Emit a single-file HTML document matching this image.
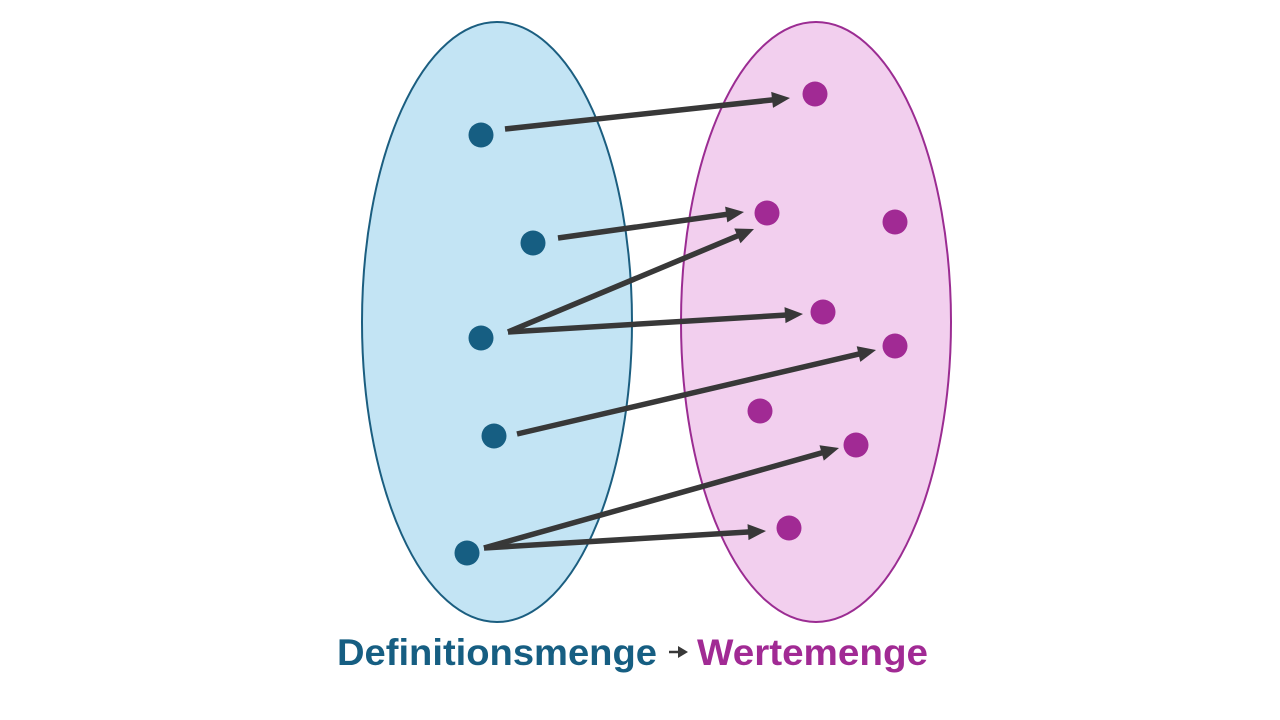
<!DOCTYPE html>
<html><head><meta charset="utf-8"><style>
html,body{margin:0;padding:0;background:#fff;width:1280px;height:720px;overflow:hidden}
svg{display:block}
</style></head><body>
<svg width="1280" height="720" viewBox="0 0 1280 720" xmlns="http://www.w3.org/2000/svg">
<ellipse cx="497" cy="322" rx="135" ry="300" fill="#C3E4F4" stroke="#1B5E80" stroke-width="2"/>
<ellipse cx="816" cy="322" rx="135" ry="300" fill="#F2CFEE" stroke="#9B2C92" stroke-width="2"/>
<g fill="#165E82">
<circle cx="481" cy="135" r="12.5"/>
<circle cx="533" cy="243" r="12.5"/>
<circle cx="481" cy="338" r="12.5"/>
<circle cx="494" cy="436" r="12.5"/>
<circle cx="467" cy="553" r="12.5"/>
</g>
<g fill="#A12A94">
<circle cx="815" cy="94" r="12.5"/>
<circle cx="767" cy="213" r="12.5"/>
<circle cx="895" cy="222" r="12.5"/>
<circle cx="823" cy="312" r="12.5"/>
<circle cx="895" cy="346" r="12.5"/>
<circle cx="760" cy="411" r="12.5"/>
<circle cx="856" cy="445" r="12.5"/>
<circle cx="789" cy="528" r="12.5"/>
</g>
<g stroke="#383838" stroke-width="5.5" fill="none">
<line x1="505" y1="129" x2="776.1" y2="99.5"/>
<line x1="558" y1="238" x2="730.1" y2="213.9"/>
<line x1="508" y1="332" x2="741.1" y2="234.4"/>
<line x1="508" y1="332" x2="789" y2="314.9"/>
<line x1="517" y1="434" x2="862.4" y2="353.2"/>
<line x1="484" y1="548" x2="825.5" y2="451.8"/>
<line x1="484" y1="548" x2="752" y2="531.8"/>
</g>
<g fill="#383838">
<polygon points="790,98 773.0,107.9 771.2,91.9"/>
<polygon points="744,212 727.3,222.4 725.1,206.6"/>
<polygon points="754,229 740.5,243.3 734.3,228.5"/>
<polygon points="803,314 785.5,323.1 784.5,307.1"/>
<polygon points="876,350 860.3,361.9 856.7,346.3"/>
<polygon points="839,448 823.8,460.6 819.5,445.2"/>
<polygon points="766,531 748.5,540.1 747.5,524.1"/>
</g>
<text x="337" y="665" font-family="Liberation Sans, sans-serif" font-weight="bold" font-size="37" fill="#165E82" textLength="320" lengthAdjust="spacingAndGlyphs">Definitionsmenge</text>
<line x1="669" y1="652" x2="680" y2="652" stroke="#383838" stroke-width="2.5"/>
<path d="M678,646 L688,652 L678,658 z" fill="#383838"/>
<text x="697" y="665" font-family="Liberation Sans, sans-serif" font-weight="bold" font-size="37" fill="#A12A94" textLength="231" lengthAdjust="spacingAndGlyphs">Wertemenge</text>
</svg>
</body></html>
